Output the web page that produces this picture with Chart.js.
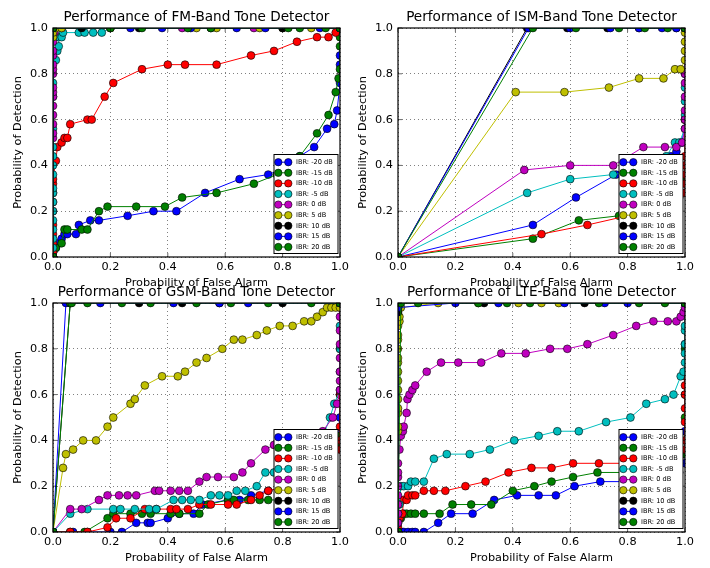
<!DOCTYPE html>
<html>
<head>
<meta charset="utf-8">
<script src="https://cdn.jsdelivr.net/npm/chart.js@4.4.0/dist/chart.umd.min.js"></script>
<style>
  body { margin: 0; background: #fff; }
  #fig { position: relative; width: 710px; height: 568px; overflow: hidden; }
  #fig canvas { position: absolute; }
</style>
</head>
<body>
<div id="fig">
  <canvas id="fm" width="355" height="293" style="left:0;top:0"></canvas>
  <canvas id="ism" width="355" height="293" style="left:345px;top:0"></canvas>
  <canvas id="gsm" width="355" height="293" style="left:0;top:275px"></canvas>
  <canvas id="lte" width="355" height="293" style="left:345px;top:275px"></canvas>
</div>
<script>
const tickValues = [0, 0.2, 0.4, 0.6, 0.8, 1.0];
const tickLabels = ['0.0', '0.2', '0.4', '0.6', '0.8', '1.0'];
const ibrLabels = ['IBR: -20 dB', 'IBR: -15 dB', 'IBR: -10 dB', 'IBR: -5 dB', 'IBR: 0 dB',
  'IBR: 5 dB', 'IBR: 10 dB', 'IBR: 15 dB', 'IBR: 20 dB'];
const lineColors = ['#0000ff', '#008000', '#ff0000', '#00bfbf', '#bf00bf',
  '#bfbf00', '#000000', '#0000ff', '#008000'];

// ROC points [Pfa, Pd] per interference level

// FM band
const fmM20 = [[0,0],[0,0.02],[0.01,0.04],[0.02,0.06],[0.03,0.08],[0.04,0.1],[0.05,0.1],[0.08,0.1],[0.09,0.14],[0.13,0.16],[0.16,0.16],[0.26,0.18],[0.35,0.2],[0.43,0.2],[0.53,0.28],[0.65,0.34],[0.75,0.36],[0.79,0.38],[0.86,0.44],[0.91,0.48],[0.955,0.56],[0.98,0.58],[0.99,0.64],[1,0.76],[1,0.84],[1,0.88],[1,1]];
const fmM15 = [[0,0],[0,0.02],[0.01,0.04],[0.03,0.06],[0.04,0.12],[0.05,0.12],[0.1,0.12],[0.12,0.12],[0.16,0.2],[0.19,0.22],[0.29,0.22],[0.39,0.22],[0.45,0.26],[0.57,0.28],[0.7,0.32],[0.78,0.36],[0.86,0.44],[0.92,0.54],[0.96,0.62],[0.985,0.72],[0.995,0.78],[1,0.82],[1,0.92],[1,0.96],[1,1]];
const fmM10 = [[0,0],[0,0.02],[0,0.06],[0,0.1],[0,0.14],[0,0.2],[0,0.24],[0,0.28],[0,0.32],[0,0.34],[0.01,0.42],[0.015,0.48],[0.03,0.5],[0.04,0.52],[0.05,0.52],[0.06,0.58],[0.12,0.6],[0.135,0.6],[0.18,0.7],[0.21,0.76],[0.31,0.82],[0.4,0.84],[0.46,0.84],[0.57,0.84],[0.69,0.88],[0.77,0.9],[0.85,0.94],[0.92,0.96],[0.96,0.96],[0.985,0.98],[1,1]];
const fmM5 = [[0,0],[0,0.04],[0,0.08],[0,0.12],[0,0.16],[0,0.2],[0,0.24],[0,0.28],[0,0.3],[0,0.36],[0,0.4],[0,0.44],[0,0.48],[0,0.56],[0,0.7],[0,0.76],[0.01,0.86],[0.015,0.9],[0.02,0.92],[0.02,0.96],[0.03,0.96],[0.035,0.98],[0.09,0.98],[0.11,0.98],[0.14,0.98],[0.17,0.98],[0.2,1],[1,1]];
const fm0 = [[0,0],[0,0.52],[0,0.54],[0,0.58],[0,0.62],[0,0.66],[0,0.7],[0,0.72],[0,0.74],[0,0.8],[0,0.82],[0,0.84],[0,0.88],[0,0.9],[0,0.94],[0.005,0.98],[0.03,1],[0.2,1],[0.45,1],[0.7,1],[1,1]];
const fmP5 = [[0,0],[0,0.96],[0,0.98],[0.01,1],[0.03,1],[0.2,1],[0.5,1],[0.57,1],[0.72,1],[0.8,1],[0.9,1],[1,1]];
const fmP10 = [[0,0],[0,1],[0.1,1],[0.3,1],[0.55,1],[0.8,1],[1,1]];
const fmP15 = [[0,0],[0,1],[0.27,1],[0.38,1],[0.48,1],[0.64,1],[0.74,1],[0.93,1],[1,1]];
const fmP20 = [[0,0],[0,1],[0.2,1],[0.31,1],[0.47,1],[0.55,1],[0.82,1],[0.86,1],[0.95,1],[1,1]];

// ISM band
const ismM20 = [[0,0],[0.47,0.14],[0.62,0.26],[0.76,0.36],[0.86,0.4],[0.95,0.44],[0.97,0.46],[0.99,0.5],[1,0.6],[1,0.8],[1,1]];
const ismM15 = [[0,0],[0.47,0.08],[0.63,0.16],[0.77,0.18],[0.9,0.22],[0.98,0.28],[1,0.34],[1,0.6],[1,1]];
const ismM10 = [[0,0],[0.5,0.1],[0.66,0.14],[0.8,0.18],[0.9,0.22],[0.98,0.26],[1,0.28],[1,0.32],[1,0.36],[1,0.4],[1,0.44],[1,0.6],[1,1]];
const ismM5 = [[0,0],[0.45,0.28],[0.6,0.34],[0.75,0.36],[0.85,0.38],[0.935,0.44],[0.965,0.5],[0.98,0.5],[1,0.56],[1,0.62],[1,0.68],[1,0.74],[1,1]];
const ism0 = [[0,0],[0.44,0.38],[0.6,0.4],[0.75,0.4],[0.855,0.48],[0.93,0.48],[0.97,0.48],[0.99,0.5],[1,0.56],[1,0.6],[1,0.64],[1,0.7],[1,0.76],[1,0.8],[1,1]];
const ismP5 = [[0,0],[0.41,0.72],[0.58,0.72],[0.735,0.74],[0.84,0.78],[0.925,0.78],[0.965,0.82],[0.985,0.82],[1,0.86],[1,0.9],[1,0.94],[1,0.98],[1,1]];
const ismP10 = [[0,0],[0.45,1],[0.59,1],[0.73,1],[0.84,1],[0.97,1],[1,1]];
const ismP15 = [[0,0],[0.455,1],[0.6,1],[0.74,1],[0.84,1],[0.92,1],[0.97,1],[1,1]];
const ismP20 = [[0,0],[0.47,1],[0.62,1],[0.77,1],[0.86,1],[0.94,1],[1,1]];

// GSM band
const gsmM20 = [[0,0],[0.07,0],[0.12,0],[0.2,0],[0.24,0],[0.29,0.04],[0.33,0.04],[0.34,0.04],[0.4,0.06],[0.44,0.08],[0.49,0.08],[0.52,0.12],[0.61,0.14],[0.65,0.14],[0.69,0.16],[0.75,0.18],[0.82,0.2],[0.9,0.24],[0.96,0.3],[0.99,0.4],[1,0.5],[1,0.6],[1,1]];
const gsmM15 = [[0,0],[0.06,0],[0.11,0],[0.19,0.06],[0.21,0.08],[0.27,0.08],[0.31,0.08],[0.34,0.08],[0.41,0.08],[0.44,0.08],[0.51,0.08],[0.54,0.12],[0.61,0.14],[0.63,0.14],[0.68,0.14],[0.72,0.14],[0.75,0.14],[0.8,0.14],[0.9,0.18],[0.97,0.26],[1,0.38],[1,0.42],[1,0.6],[1,0.8],[1,1]];
const gsmM10 = [[0,0],[0.06,0],[0.12,0],[0.19,0.02],[0.22,0.06],[0.27,0.06],[0.32,0.1],[0.36,0.1],[0.41,0.1],[0.43,0.1],[0.47,0.1],[0.51,0.12],[0.55,0.12],[0.61,0.12],[0.64,0.12],[0.69,0.14],[0.72,0.16],[0.75,0.18],[0.82,0.2],[0.9,0.24],[0.97,0.3],[1,0.36],[1,0.4],[1,0.46],[1,0.6],[1,1]];
const gsmM5 = [[0,0],[0.06,0.08],[0.12,0.1],[0.21,0.1],[0.235,0.1],[0.285,0.1],[0.335,0.1],[0.36,0.1],[0.42,0.14],[0.45,0.14],[0.48,0.14],[0.51,0.14],[0.55,0.16],[0.58,0.16],[0.61,0.16],[0.64,0.18],[0.67,0.18],[0.71,0.2],[0.74,0.26],[0.77,0.26],[0.86,0.3],[0.93,0.38],[0.965,0.5],[0.98,0.56],[1,0.62],[1,0.7],[1,0.8],[1,0.9],[1,1]];
const gsm0 = [[0,0],[0.06,0.1],[0.1,0.1],[0.16,0.14],[0.19,0.16],[0.23,0.16],[0.26,0.16],[0.29,0.16],[0.355,0.18],[0.37,0.18],[0.41,0.18],[0.44,0.18],[0.47,0.18],[0.51,0.22],[0.535,0.24],[0.575,0.24],[0.63,0.24],[0.66,0.26],[0.69,0.3],[0.74,0.36],[0.77,0.38],[0.87,0.42],[0.94,0.44],[0.975,0.5],[0.99,0.56],[1,0.62],[1,0.66],[1,0.7],[1,0.76],[1,0.82],[1,0.88],[1,0.94],[1,0.98],[1,1]];
const gsmP5 = [[0,0],[0.035,0.28],[0.045,0.34],[0.07,0.36],[0.105,0.4],[0.15,0.4],[0.19,0.46],[0.21,0.5],[0.27,0.56],[0.285,0.58],[0.32,0.64],[0.38,0.68],[0.435,0.68],[0.46,0.7],[0.5,0.74],[0.535,0.76],[0.59,0.8],[0.63,0.84],[0.66,0.84],[0.71,0.86],[0.745,0.88],[0.79,0.9],[0.835,0.9],[0.875,0.92],[0.9,0.92],[0.92,0.94],[0.94,0.96],[0.955,0.98],[0.97,0.98],[0.985,0.98],[1,0.98],[1,1]];
const gsmP10 = [[0,0],[0.06,1],[0.3,1],[0.45,1],[0.58,1],[0.8,1],[1,1]];
const gsmP15 = [[0,0],[0.045,1],[0.06,1],[0.165,1],[0.42,1],[0.58,1],[0.68,1],[1,1]];
const gsmP20 = [[0,0],[0.06,1],[0.065,1],[0.12,1],[0.24,1],[0.34,1],[0.5,1],[0.62,1],[0.75,1],[0.9,1],[1,1]];

// LTE band
const lteM20 = [[0,0],[0.01,0],[0.02,0],[0.035,0],[0.05,0],[0.06,0],[0.09,0],[0.14,0.04],[0.185,0.08],[0.26,0.08],[0.335,0.14],[0.415,0.16],[0.49,0.16],[0.55,0.16],[0.615,0.2],[0.705,0.22],[0.8,0.22],[0.9,0.24],[0.98,0.26],[1,0.3],[1,0.44],[1,0.82],[1,1]];
const lteM15 = [[0,0],[0.01,0.06],[0.02,0.08],[0.03,0.08],[0.045,0.08],[0.06,0.08],[0.09,0.08],[0.145,0.08],[0.19,0.12],[0.255,0.12],[0.325,0.12],[0.4,0.18],[0.475,0.2],[0.535,0.22],[0.61,0.24],[0.695,0.26],[0.8,0.26],[0.9,0.28],[0.98,0.3],[1,0.34],[1,0.5],[1,0.6],[1,0.8],[1,1]];
const lteM10 = [[0,0],[0,0.02],[0,0.04],[0.005,0.06],[0.015,0.08],[0.02,0.14],[0.03,0.14],[0.035,0.16],[0.05,0.16],[0.06,0.16],[0.09,0.18],[0.125,0.18],[0.165,0.18],[0.235,0.2],[0.305,0.22],[0.385,0.26],[0.465,0.28],[0.535,0.28],[0.61,0.3],[0.7,0.3],[0.8,0.3],[0.9,0.3],[0.98,0.32],[1,0.36],[1,0.4],[1,0.48],[1,0.54],[1,0.6],[1,0.64],[1,0.68],[1,1]];
const lteM5 = [[0,0],[0,0.04],[0,0.08],[0.005,0.12],[0.01,0.2],[0.02,0.2],[0.035,0.2],[0.045,0.22],[0.06,0.22],[0.09,0.22],[0.125,0.32],[0.17,0.34],[0.25,0.34],[0.32,0.36],[0.405,0.4],[0.49,0.42],[0.555,0.44],[0.63,0.44],[0.725,0.48],[0.81,0.5],[0.865,0.56],[0.93,0.58],[0.96,0.6],[0.985,0.68],[0.995,0.7],[1,0.74],[1,0.78],[1,0.82],[1,0.88],[1,0.9],[1,1]];
const lte0 = [[0,0],[0,0.04],[0,0.08],[0,0.12],[0,0.16],[0,0.2],[0,0.24],[0,0.26],[0,0.3],[0.005,0.36],[0.01,0.42],[0.017,0.44],[0.02,0.46],[0.03,0.52],[0.033,0.58],[0.04,0.6],[0.05,0.62],[0.06,0.64],[0.1,0.7],[0.15,0.74],[0.21,0.74],[0.29,0.74],[0.36,0.78],[0.445,0.78],[0.53,0.8],[0.59,0.8],[0.66,0.82],[0.75,0.86],[0.83,0.9],[0.89,0.92],[0.94,0.92],[0.97,0.92],[0.985,0.94],[0.995,0.96],[1,0.98],[1,1]];
const lteP5 = [[0,0],[0,0.44],[0,0.46],[0,0.52],[0,0.54],[0,0.58],[0,0.62],[0,0.66],[0,0.7],[0,0.74],[0,0.76],[0,0.8],[0,0.84],[0,0.86],[0,0.9],[0.005,0.92],[0.005,0.94],[0.01,0.98],[0.14,1],[0.28,1],[0.42,1],[0.5,1],[0.56,1],[1,1]];
const lteP10 = [[0,0],[0,0.96],[0,0.98],[0.005,1],[0.3,1],[0.65,1],[1,1]];
const lteP15 = [[0,0],[0,0.98],[0.2,1],[0.35,1],[0.58,1],[0.72,1],[0.8,1],[1,1]];
const lteP20 = [[0,0],[0.01,1],[0.07,1],[0.28,1],[0.38,1],[0.46,1],[0.7,1],[0.84,1],[0.93,1],[1,1]];

const FONT = '"DejaVu Sans", "Liberation Sans", sans-serif';

// title centred over the plot, frame, inward ticks and the boxed legend
const axesDecor = {
  id: 'axesDecor',
  afterDatasetsDraw(chart, args, opts) {
    const { ctx, chartArea: a, scales } = chart;
    ctx.save();
    ctx.fillStyle = '#000';
    ctx.font = '13.6px ' + FONT;
    ctx.textAlign = 'center';
    ctx.textBaseline = 'alphabetic';
    ctx.fillText(opts.text, (a.left + a.right) / 2, 21);

    ctx.strokeStyle = '#000';
    ctx.lineWidth = 0.6;
    ctx.beginPath();
    tickValues.forEach(v => {
      const px = scales.x.getPixelForValue(v);
      const py = scales.y.getPixelForValue(v);
      ctx.moveTo(px, a.bottom); ctx.lineTo(px, a.bottom - 4);
      ctx.moveTo(px, a.top); ctx.lineTo(px, a.top + 4);
      ctx.moveTo(a.left, py); ctx.lineTo(a.left + 4, py);
      ctx.moveTo(a.right, py); ctx.lineTo(a.right - 4, py);
    });
    ctx.stroke();
    ctx.lineWidth = 1.2;
    ctx.strokeRect(a.left, a.top, a.right - a.left, a.bottom - a.top);

    const bw = 64, bh = 99;
    const bx = a.right - 2 - bw, by = a.bottom - 3.5 - bh;
    ctx.fillStyle = '#fff';
    ctx.fillRect(bx, by, bw, bh);
    ctx.lineWidth = 1;
    ctx.strokeRect(bx, by, bw, bh);
    ctx.font = '6.6px ' + FONT;
    ctx.textAlign = 'left';
    ctx.textBaseline = 'middle';
    chart.data.datasets.forEach((ds, i) => {
      const cy = by + 7.7 + i * 10.6;
      ctx.strokeStyle = ds.borderColor;
      ctx.lineWidth = 1;
      ctx.beginPath();
      ctx.moveTo(bx + 4.3, cy);
      ctx.lineTo(bx + 14.3, cy);
      ctx.stroke();
      [4.3, 14.3].forEach(dx => {
        ctx.beginPath();
        ctx.arc(bx + dx, cy, 3.7, 0, Math.PI * 2);
        ctx.fillStyle = ds.borderColor;
        ctx.fill();
        ctx.strokeStyle = '#000';
        ctx.lineWidth = 0.6;
        ctx.stroke();
      });
      ctx.fillStyle = '#000';
      ctx.fillText(ds.label, bx + 22, cy);
    });
    ctx.restore();
  }
};

function axisOptions(titleText, isX) {
  return {
    type: 'linear',
    min: 0,
    max: 1,
    afterBuildTicks: s => { s.ticks = tickValues.map(v => ({ value: v })); },
    afterFit: s => { if (isX) s.height = 36; else s.width = 53; },
    ticks: {
      callback: (v, i) => tickLabels[i],
      color: '#000',
      font: { family: FONT, size: 11.3 },
      padding: isX ? 3.5 : 5,
      maxRotation: 0
    },
    grid: { color: '#000', lineWidth: 0.5, drawTicks: false },
    border: { display: false, dash: [1, 3] },
    title: {
      display: true,
      text: titleText,
      color: '#000',
      font: { family: FONT, size: 11.3 },
      padding: isX ? { top: 0, bottom: 3 } : { top: 11, bottom: 0 }
    }
  };
}

function drawPanel(id, titleText, series) {
  new Chart(document.getElementById(id), {
    type: 'scatter',
    data: {
      datasets: series.map((pts, i) => ({
        label: ibrLabels[i],
        data: pts.map(p => ({ x: p[0], y: p[1] })),
        showLine: true,
        borderColor: lineColors[i],
        borderWidth: 1,
        backgroundColor: lineColors[i],
        pointBackgroundColor: lineColors[i],
        pointBorderColor: '#000',
        pointBorderWidth: 0.6,
        pointRadius: 3.9,
        tension: 0,
        clip: 0,
        order: series.length - i
      }))
    },
    options: {
      responsive: false,
      animation: false,
      layout: { autoPadding: false, padding: { top: 28, right: 15, bottom: 0, left: 0 } },
      plugins: {
        legend: { display: false },
        tooltip: { enabled: false },
        title: { display: false },
        axesDecor: { text: titleText }
      },
      scales: {
        x: axisOptions('Probability of False Alarm', true),
        y: axisOptions('Probability of Detection', false)
      }
    },
    plugins: [axesDecor]
  });
}

drawPanel('fm', 'Performance of FM-Band Tone Detector',
  [fmM20, fmM15, fmM10, fmM5, fm0, fmP5, fmP10, fmP15, fmP20]);
drawPanel('ism', 'Performance of ISM-Band Tone Detector',
  [ismM20, ismM15, ismM10, ismM5, ism0, ismP5, ismP10, ismP15, ismP20]);
drawPanel('gsm', 'Performance of GSM-Band Tone Detector',
  [gsmM20, gsmM15, gsmM10, gsmM5, gsm0, gsmP5, gsmP10, gsmP15, gsmP20]);
drawPanel('lte', 'Performance of LTE-Band Tone Detector',
  [lteM20, lteM15, lteM10, lteM5, lte0, lteP5, lteP10, lteP15, lteP20]);
</script>
</body>
</html>
